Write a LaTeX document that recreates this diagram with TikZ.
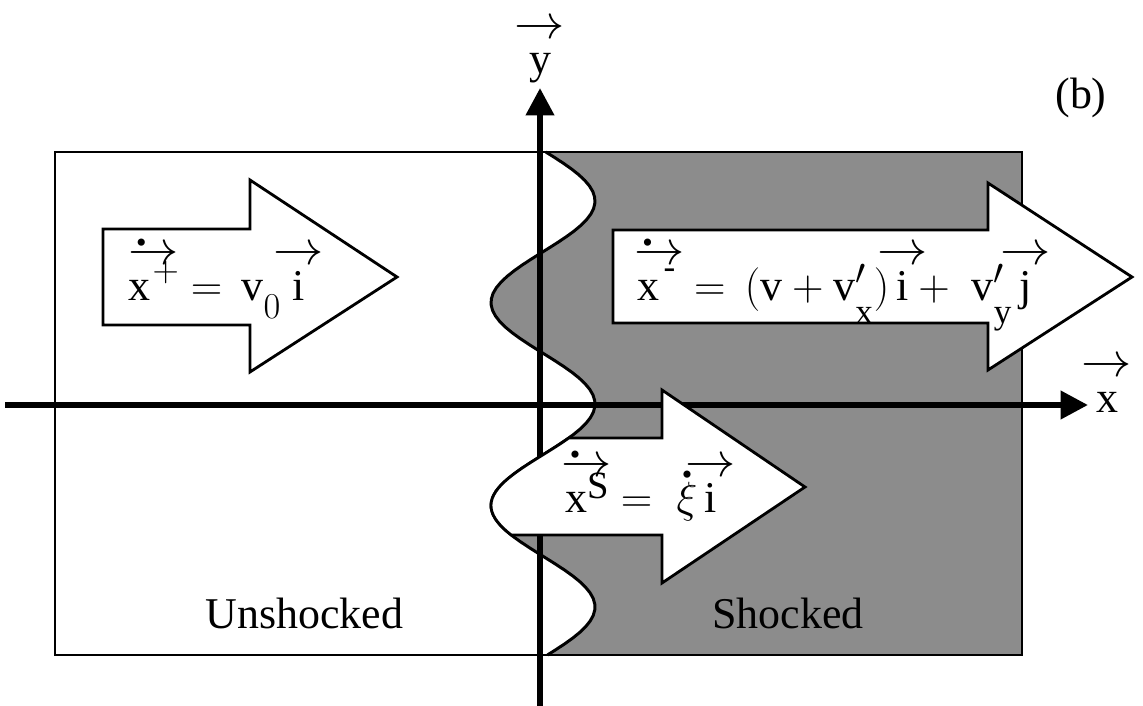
\documentclass[tikz,border=0pt]{standalone}
\usepackage{amsmath}
\usepackage{fontspec}
\setmainfont{Liberation Serif}
\usepackage{tikz}
\usetikzlibrary{arrows.meta,backgrounds}
\DeclareMathSizes{25}{25}{20}{16}
\newcommand{\varr}[1]{\mbox{\ooalign{$#1$\cr\hidewidth\raisebox{0.8em}{\scalebox{1.15}[1.1]{$\rightarrow$}}\hidewidth\cr}}}
\newcommand{\dvarr}[1]{\mbox{\ooalign{$#1$\cr\hidewidth\raisebox{0.8em}{\scalebox{1.15}[1.1]{$\rightarrow$}}\hidewidth\cr\hidewidth\raisebox{1.08em}{\fontsize{17}{17}\selectfont\textbullet}\kern0.55em\hidewidth\cr}}}
\newcommand{\dxi}{\mbox{\ooalign{$\xi$\cr\hidewidth\raisebox{0.62em}{\fontsize{17}{17}\selectfont\textbullet}\hidewidth\cr}}}
\newcommand{\hi}[1]{\raisebox{0.42em}{$\scriptstyle#1$}}
\newcommand{\lo}[1]{\raisebox{-0.42em}{$\scriptstyle#1$}}

\begin{document}
\begin{tikzpicture}[x=0.02cm,y=-0.02cm,
    lbl/.style={inner sep=0pt, font=\fontsize{25}{30}\selectfont},
    axis/.style={line width=0.12cm, -{Triangle[length=0.55cm,width=0.55cm]}},
    flow/.style={draw=black, fill=white, line width=1.6pt, line join=miter}]
    \useasboundingbox (0,0) rectangle (1143,706);
    \coordinate (o) at (540,405);
    \coordinate (xa) at (5,405);
    \coordinate (xb) at (1088,405);
    \coordinate (ya) at (540,706);
    \coordinate (yb) at (540,88);
    % shocked region behind the front
    \fill[black!45] plot[domain=152:655, samples=90, variable=\t] ({543+52*cos(1.7734*(\t-201))},\t) -- (1022,655) -- (1022,152) -- cycle;
    \draw[line width=1.1pt] (55,152) rectangle (1022,655);
    \draw[line width=1.7pt] plot[domain=152:655, samples=90, variable=\t] ({543+52*cos(1.7734*(\t-201))},\t);
    \draw[axis] (xa) -- (xb);
    \draw[axis] (ya) -- (yb);
    % velocity arrows
    \draw[flow] (103,229) -- (250,229) -- (250,180) -- (397,277) -- (250,372) -- (250,325) -- (103,325) -- cycle;
    \draw[flow] (613,230) -- (988,230) -- (988,183) -- (1132,277) -- (988,370) -- (988,323) -- (613,323) -- cycle;
    \draw[flow] plot[domain=438:535, samples=30, variable=\t] ({543+52*cos(1.7734*(\t-201))},\t) -- (662,535) -- (662,583) -- (805,487) -- (662,390) -- (662,438) -- cycle;
    % labels
    \node[lbl, anchor=base west] (up) at (128,300) {$\dvarr{\mathrm{x}\kern0.05em\hi{+}} = \,\mathrm{v}\lo{0}\;\varr{\mathrm{i}}$};
    \node[lbl, anchor=base west] (um) at (637,300) {$\dvarr{\mathrm{x}\kern0.1em\raisebox{0.5em}{\fontsize{20}{20}\selectfont -}\kern0.15em} = \,(\mathrm{v} + \mathrm{v}'_{\raisebox{-0.3em}{$\scriptstyle\mathrm{x}$}})\,\varr{\mathrm{i}}+ \;\mathrm{v}'_{\raisebox{-0.3em}{$\scriptstyle\mathrm{y}$}}\,\varr{\mathrm{j}}$};
    \node[lbl, anchor=base west] (us) at (565,512) {$\dvarr{\mathrm{x}\raisebox{0.3em}{\fontsize{22}{22}\selectfont S}} = \;\dxi\,\varr{\mathrm{i}}$};
    \node[lbl, anchor=base west] (unsh) at (205,628) {Unshocked};
    \node[lbl, anchor=base west] (sh) at (712,628) {Shocked};
    \node[lbl] (b) at (1081,98) {(b)};
    \node[lbl, anchor=base] (yl) at (540,74) {$\varr{\mathrm{y}}$};
    \node[lbl, anchor=base] (xl) at (1107,412) {$\varr{\mathrm{x}}$};
\end{tikzpicture}
\end{document}
